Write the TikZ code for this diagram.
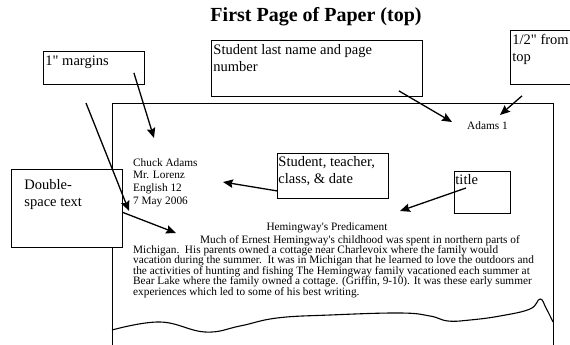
\documentclass[tikz,border=0pt]{standalone}
\usepackage{fontspec}
\setmainfont{Liberation Serif}[Ligatures=TeXOff]
\usepackage{tikz}
\usetikzlibrary{arrows.meta,calc}

\begin{document}
\begin{tikzpicture}[x=1pt,y=-1pt]
% define the looks
\tikzset{lbl/.style={draw,fill=white,line width=0.9pt,anchor=north west,font=\fontsize{14.5}{17}\selectfont}}
\tikzset{txt/.style={inner sep=0pt,font=\fontsize{11.3}{10.4}\selectfont}}
\tikzset{pointer/.style={line width=1.3pt,-{Stealth[length=10pt,width=8.5pt,inset=1.5pt]}}}

%% CONFIG
% Edges of the sheet
\def\pageL{112}
\def\pageR{553}
\def\pageT{103}
\def\pageB{347}

%% Macro for a label box, text in the top left corner
% 1: id
% 2: loc (top left)
% 3: width
% 4: height
% 5: x pad
% 6: y pad
% 7: text
\newcommand{\callbox}[7]{
    \pgfmathsetmacro\cbw{#3-2*#5}
    \pgfmathsetmacro\cbh{#4-2*#6}
    \node[lbl,inner xsep=#5pt,inner ysep=#6pt] (#1) at #2 {\parbox[c][\cbh pt][t]{\cbw pt}{\raggedright\strut #7}};
}

\useasboundingbox (0,0) rectangle (570,345);

% Draw the heading
\node[font=\bfseries\fontsize{20}{24}\selectfont,anchor=base] (heading) at (316,21.5) {First Page of Paper (top)};

% Draw the sheet
\draw[line width=0.9pt] (\pageL,\pageB) -- (\pageL,\pageT) -- (\pageR,\pageT) -- (\pageR,\pageB);
% Torn edge
\draw[line width=1.1pt] plot[smooth,tension=0.7] coordinates {(112,330) (160,322) (205,332) (240,326) (277,318) (330,315) (400,313) (430,316) (448,321) (470,320) (500,316) (530,309) (540,299) (546,308) (553,322)};

% Draw the text on the sheet
\node[txt,anchor=base west] (pageno) at (467,129) {Adams 1};
\node[txt,anchor=base west,font=\fontsize{11.3}{12.7}\selectfont] (header) at (133,166) {\parbox[t]{90pt}{Chuck Adams\\Mr. Lorenz\\English 12\\7 May 2006}};
\node[txt,anchor=base] (essaytitle) at (327,230) {Hemingway's Predicament};
\node[txt,anchor=base west] (body) at (133,243) {\parbox[t]{420pt}{\raggedright
\hspace*{67pt}Much of Ernest Hemingway's childhood was spent in northern parts of\\
Michigan.\ \ His parents owned a cottage near Charlevoix where the family would\\
vacation during the summer.\ \ It was in Michigan that he learned to love the outdoors and\\
the activities of hunting and fishing The Hemingway family vacationed each summer at\\
Bear Lake where the family owned a cottage. (Griffin, 9-10). It was these early summer\\
experiences which led to some of his best writing.}};

% Draw label boxes
\callbox{margins}{(43,51)}{101}{33}{2}{2}{1" margins}
\callbox{lastname}{(211,40)}{211}{56}{2}{2}{Student last name and page\\number}
\callbox{halfinch}{(510,30)}{70}{54}{2}{2}{1/2" from\\top}
\callbox{who}{(277,153)}{111}{45}{1}{1}{Student, teacher,\\class, \& date}
\callbox{titlelbl}{(454,171)}{56}{42}{1}{1}{title}
\callbox{dbl}{(11,169)}{111}{78}{13}{8}{Double-\\space text}

% Arrow ends
\coordinate (toptip) at (154,138);
\coordinate (edgetop) at (86,103);
\coordinate (edgetip) at (129,211);
\coordinate (dbltip) at (176,233);
\coordinate (pagenotip) at (452,122);
\coordinate (halftip) at (500,115);
\coordinate (whotip) at (223,182);
\coordinate (titletip) at (400,211);

% Draw arrows
\draw[pointer] ($(margins.south east)+(-11,-12)$) -- (toptip);
\draw[pointer] (edgetop) -- (edgetip);
\draw[pointer] ($(dbl.east)+(0,4)$) -- (dbltip);
\draw[pointer] ($(lastname.south east)+(-24,-6)$) -- (pagenotip);
\draw[pointer] ($(halfinch.south west)+(12,11)$) -- (halftip);
\draw[pointer] ($(who.south west)+(0,-8)$) -- (whotip);
\draw[pointer] ($(titlelbl.north west)+(12,17)$) -- (titletip);

\end{tikzpicture}
\end{document}
